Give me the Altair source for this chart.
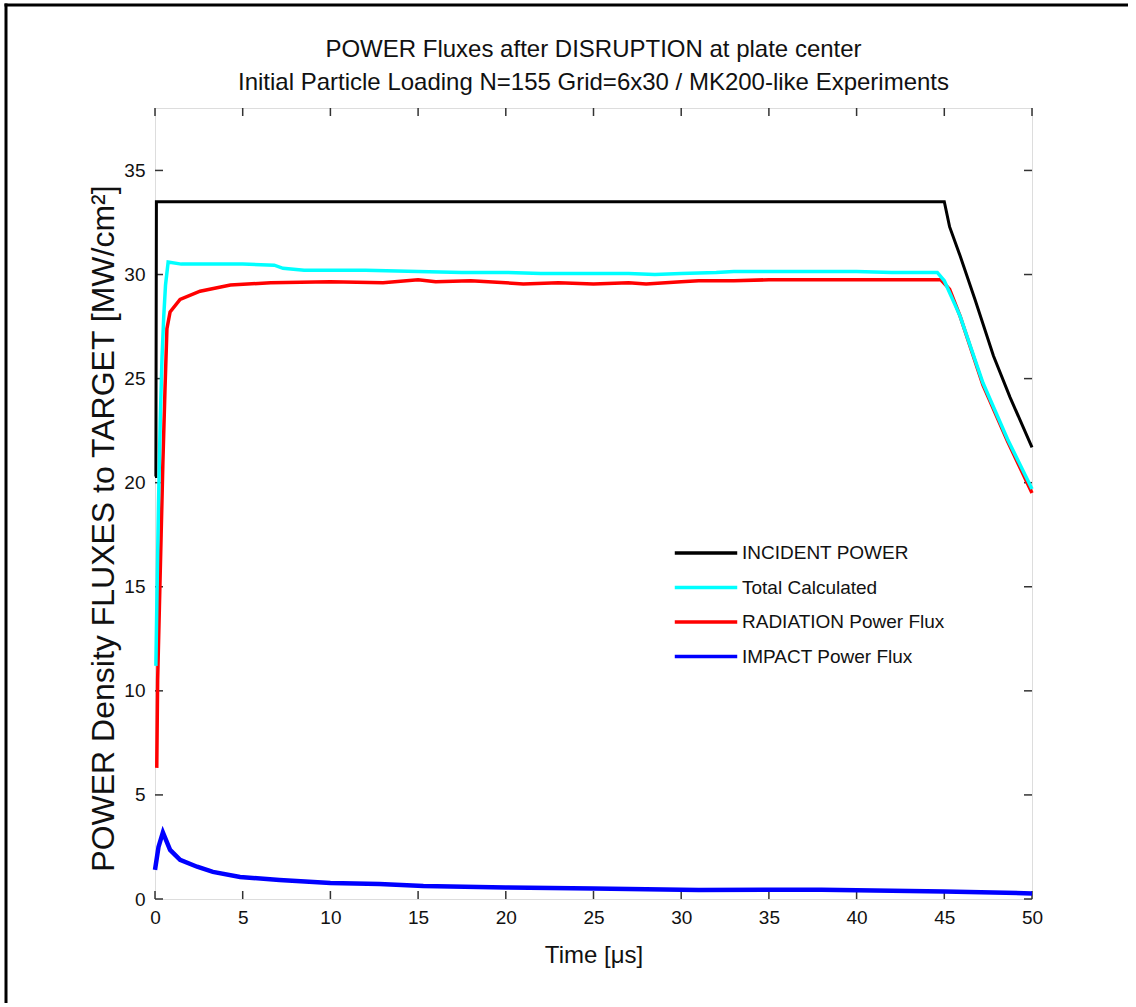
import altair as alt
import pandas as pd

FONT = "'Liberation Sans Narrow', 'Arial Narrow', 'Liberation Sans', Arial, sans-serif"

title_line1 = "POWER Fluxes after DISRUPTION at plate center"
title_line2 = "Initial Particle Loading N=155 Grid=6x30 / MK200-like Experiments"

series_names = ["INCIDENT POWER", "Total Calculated", "RADIATION Power Flux", "IMPACT Power Flux"]
series_colors = ["#000000", "#00FFFF", "#FF0000", "#0000FF"]

incident_t = [0, 0.05, 0.08, 45.0, 45.3, 45.9, 46.75, 47.8, 48.75, 50]
incident_v = [20.3, 20.3, 33.5, 33.5, 32.3, 30.9, 28.8, 26.1, 24.1, 21.7]

total_t = [0.05, 0.12, 0.2, 0.3, 0.4, 0.5, 0.6, 0.75, 1.5, 3, 5, 6.8, 7.3, 8.5, 10, 12, 15, 17.5,
           20, 22, 25, 27, 28.5, 30, 32, 33, 35, 38, 40, 42, 44.6, 45.0, 45.9, 47.2, 48.6, 50]
total_v = [11.2, 15, 19, 23, 26, 28, 29.5, 30.6, 30.5, 30.5, 30.5, 30.45, 30.3, 30.2, 30.2, 30.2, 30.15, 30.1,
           30.1, 30.05, 30.05, 30.05, 30.0, 30.05, 30.1, 30.15, 30.15, 30.15, 30.15, 30.1, 30.1, 29.7, 28.0, 24.8, 22.1, 19.7]

rad_t = [0.1, 0.15, 0.25, 0.35, 0.45, 0.57, 0.68, 0.86, 1.43, 2.57, 4.3, 6.6, 10, 13, 15, 16, 18, 20, 21,
         23, 25, 27, 28, 30, 31, 33, 35, 40, 44.8, 45.3, 45.9, 47.2, 48.6, 50]
rad_v = [6.3, 10.5, 14, 17.5, 21, 24.5, 27.4, 28.2, 28.8, 29.2, 29.5, 29.6, 29.65, 29.6, 29.75, 29.65, 29.7, 29.6, 29.55,
         29.6, 29.55, 29.6, 29.55, 29.65, 29.7, 29.7, 29.75, 29.75, 29.75, 29.3, 28.0, 24.7, 22.0, 19.5]

impact_t = [0, 0.2, 0.45, 0.86, 1.43, 2.4, 3.3, 4.85, 7.1, 10, 12.8, 15.3, 20, 25, 31, 38, 45, 50]
impact_v = [1.4, 2.5, 3.2, 2.36, 1.88, 1.55, 1.3, 1.06, 0.91, 0.77, 0.72, 0.62, 0.55, 0.5, 0.43, 0.45, 0.36, 0.27]

x_ticks = [0, 5, 10, 15, 20, 25, 30, 35, 40, 45, 50]
y_ticks = [0, 5, 10, 15, 20, 25, 30, 35]

W, H = 877, 791
TICK = 8
PAD = {"left": 155, "top": 108, "right": 104, "bottom": 104}

def frame(name, t, v):
    return pd.DataFrame({"t": t, "v": v, "series": name})

dfs = {
    "INCIDENT POWER": frame("INCIDENT POWER", incident_t, incident_v),
    "Total Calculated": frame("Total Calculated", total_t, total_v),
    "RADIATION Power Flux": frame("RADIATION Power Flux", rad_t, rad_v),
    "IMPACT Power Flux": frame("IMPACT Power Flux", impact_t, impact_v),
}

xscale = alt.Scale(domain=[0, 50], nice=False, zero=False)
yscale = alt.Scale(domain=[0, 38], nice=False)
color = alt.Color(
    "series:N",
    scale=alt.Scale(domain=series_names, range=series_colors),
    legend=alt.Legend(
        title=None, orient="none", legendX=518, legendY=433,
        symbolType="stroke", symbolSize=3900, symbolStrokeWidth=3.5,
        clipHeight=24, rowPadding=10.5, labelOffset=3, padding=0, labelLimit=400,
        labelFont=FONT, labelFontSize=19, labelColor="#111111", symbolOffset=0,
    ),
)

xaxis = alt.Axis(values=x_ticks, ticks=False, domain=False, grid=False, labelPadding=9, labelFlush=False,
                 title="Time [μs]", titleFont=FONT, titleFontSize=24, titleFontWeight="normal",
                 titlePadding=16, labelFont=FONT, labelFontSize=19, labelColor="#111111", titleColor="#111111")
yaxis = alt.Axis(values=y_ticks, ticks=False, domain=False, grid=False, labelPadding=10,
                 title="POWER Density FLUXES to TARGET [MW/cm²]", titleFont=FONT, titleFontSize=32,
                 titleFontWeight="normal", titlePadding=3, titleY=420, labelFont=FONT, labelFontSize=19,
                 labelColor="#111111", titleColor="#111111")

def line(name, width):
    return alt.Chart(dfs[name]).mark_line(strokeWidth=width, interpolate="linear").encode(
        x=alt.X("t:Q", scale=xscale, axis=xaxis),
        y=alt.Y("v:Q", scale=yscale, axis=yaxis),
        color=color,
    )

yt = pd.DataFrame({"v": y_ticks})
xt = pd.DataFrame({"t": x_ticks})
tick_style = dict(color="#333333", strokeWidth=1.5)
ticks = [
    alt.Chart(yt).mark_rule(**tick_style).encode(y=alt.Y("v:Q", scale=yscale), x=alt.value(0), x2=alt.value(TICK)),
    alt.Chart(yt).mark_rule(**tick_style).encode(y=alt.Y("v:Q", scale=yscale), x=alt.value(W - TICK), x2=alt.value(W)),
    alt.Chart(xt).mark_rule(**tick_style).encode(x=alt.X("t:Q", scale=xscale), y=alt.value(H), y2=alt.value(H - TICK)),
    alt.Chart(xt).mark_rule(**tick_style).encode(x=alt.X("t:Q", scale=xscale), y=alt.value(0), y2=alt.value(TICK)),
]

one = alt.Data(values=[{"k": 1}])
border_top = alt.Chart(one).mark_rule(color="black", strokeWidth=3, clip=False).encode(
    x=alt.value(-150.5), x2=alt.value(W + PAD["right"] - 8), y=alt.value(-103))
border_left = alt.Chart(one).mark_rule(color="black", strokeWidth=3, clip=False).encode(
    x=alt.value(-149), y=alt.value(-104.5), y2=alt.value(H + PAD["bottom"]))

def title_text(txt, ypos):
    return alt.Chart(one).mark_text(
        font=FONT, fontSize=24, color="#111111", align="center", baseline="alphabetic", text=txt
    ).encode(x=alt.value(W / 2), y=alt.value(ypos))

chart = alt.layer(
    border_top,
    border_left,
    *ticks,
    line("INCIDENT POWER", 3),
    line("RADIATION Power Flux", 3.5),
    line("IMPACT Power Flux", 4.5),
    line("Total Calculated", 3.5),
    title_text(title_line1, -51),
    title_text(title_line2, -18),
).properties(
    width=W, height=H,
    autosize=alt.AutoSizeParams(type="none"),
    padding=PAD,
).configure_view(stroke="#444444", strokeWidth=2).configure(background="white")

chart.save("out.html", embed_options={"renderer": "svg", "actions": False})
